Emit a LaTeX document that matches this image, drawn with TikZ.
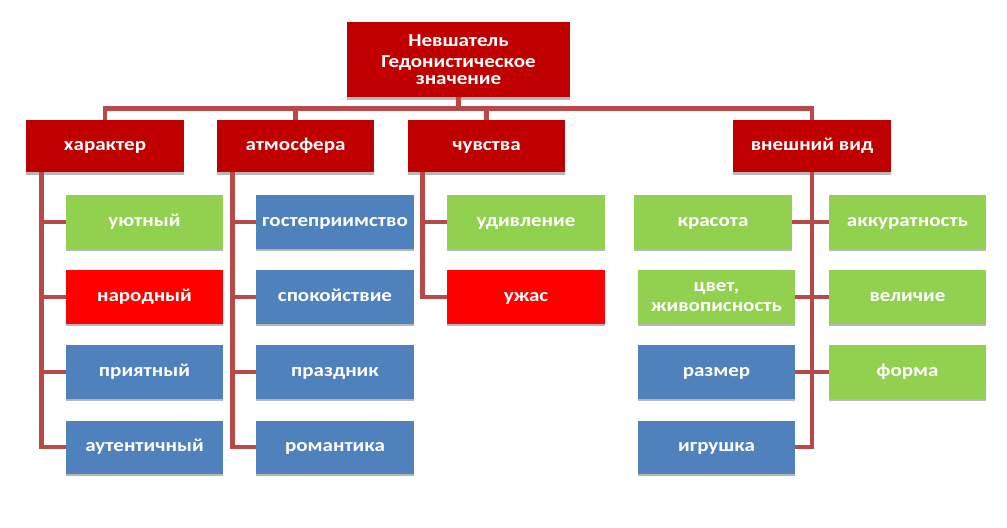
\documentclass[tikz,border=0pt]{standalone}
\usepackage{fontspec}
\setmainfont{Carlito}[FakeStretch=1.15]
\usetikzlibrary{calc,shadows}
\definecolor{catred}{RGB}{192,0,0}
\definecolor{lgreen}{RGB}{146,208,80}
\definecolor{brred}{RGB}{255,0,0}
\definecolor{sblue}{RGB}{79,129,189}
\definecolor{linecol}{RGB}{185,72,72}
\setlength{\lineskiplimit}{-20pt}
\begin{document}
\begin{tikzpicture}[x=0.025cm,y=-0.025cm,
  box/.style={minimum width=3.925cm,minimum height=1.325cm,inner sep=0pt,align=center,text=white,
    font=\fontsize{13}{12}\selectfont\bfseries,
    drop shadow={shadow xshift=0pt,shadow yshift=-2pt,fill=black!40,opacity=0.7}},
  oneline/.style={text height=6.5pt,text depth=0pt},
  cat/.style={box,oneline,fill=catred,minimum height=1.3cm},
  gbox/.style={box,oneline,fill=lgreen},
  rbox/.style={box,oneline,fill=brred},
  bbox/.style={box,oneline,fill=sblue},
  conn/.style={draw=linecol,line width=3.5pt}]
\useasboundingbox[fill=white] (0,0) rectangle (1007,527);

\node[box,fill=catred,minimum width=5.575cm,minimum height=1.875cm] (root) at (458.5,59.5)
  {Невшатель\\[3pt]Гедонистическое\\значение};

\node[cat] (har) at (105,146) {характер};
\node[cat] (atm) at (295.5,146) {атмосфера};
\node[cat] (chv) at (486.5,146) {чувства};
\node[cat] (vid) at (812,146) {внешний вид};

\node[gbox] (h1) at (144.5,222) {уютный};
\node[rbox] (h2) at (144.5,297) {народный};
\node[bbox] (h3) at (144.5,372) {приятный};
\node[bbox] (h4) at (144.5,447) {аутентичный};

\node[bbox] (a1) at (335,222) {гостеприимство};
\node[bbox] (a2) at (335,297) {спокойствие};
\node[bbox] (a3) at (335,372) {праздник};
\node[bbox] (a4) at (335,447) {романтика};

\node[gbox] (c1) at (526,222) {удивление};
\node[rbox] (c2) at (526,297) {ужас};

\node[gbox] (vl1) at (713,222) {красота};
\node[box,fill=lgreen] (vl2) at (716.5,297) {цвет,\\[2pt]живописность};
\node[bbox] (vl3) at (716.5,372) {размер};
\node[bbox] (vl4) at (716.5,447) {игрушка};
\node[gbox] (vr1) at (907.5,222) {аккуратность};
\node[gbox] (vr2) at (907.5,297) {величие};
\node[gbox] (vr3) at (907.5,372) {форма};

\foreach \c in {har,atm,chv,vid}
  \draw[conn] (root.south) -- ++(0,11) -| (\c.north);

\coordinate (sh) at ($(har.south west)+(15,0)$);
\coordinate (sa) at ($(atm.south west)+(16,0)$);
\coordinate (sc) at ($(chv.south west)+(15,0)$);
\draw[conn] (sh) |- (h4.west);
\draw[conn] (sa) |- (a4.west);
\draw[conn] (sc) |- (c2.west);
\draw[conn] (vid.south) |- (vl4.east);
\foreach \n in {h1,h2,h3}
  \draw[conn] (\n.west) -- (\n.west -| sh);
\foreach \n in {a1,a2,a3}
  \draw[conn] (\n.west) -- (\n.west -| sa);
\draw[conn] (c1.west) -- (c1.west -| sc);
\foreach \n in {vl1,vl2,vl3}
  \draw[conn] (\n.east) -- (\n.east -| vid.south);
\foreach \n in {vr1,vr2,vr3}
  \draw[conn] (\n.west) -- (\n.west -| vid.south);
\end{tikzpicture}
\end{document}
